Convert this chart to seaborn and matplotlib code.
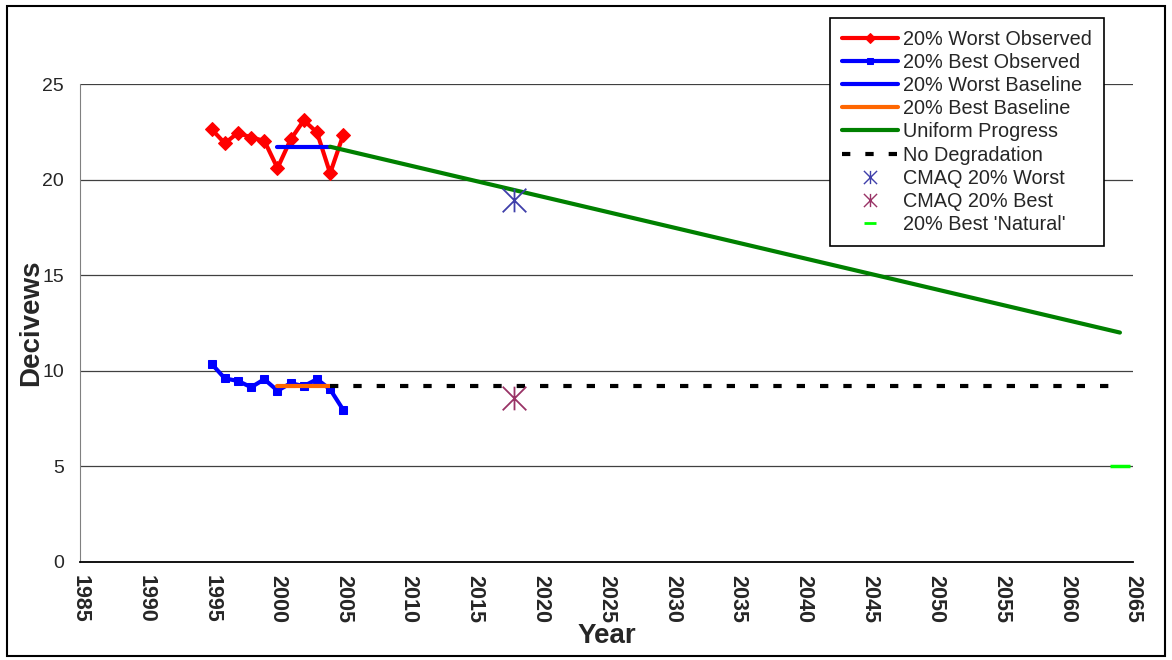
import matplotlib
matplotlib.use("Agg")
import matplotlib.pyplot as plt
import seaborn as sns
import pandas as pd
from matplotlib.patches import Rectangle
from matplotlib.path import Path

# observed 20% worst / best days (deciviews)
obs_years = [1995, 1996, 1997, 1998, 1999, 2000, 2001, 2002, 2003, 2004, 2005]
worst_obs = [22.63, 21.9, 22.45, 22.2, 22.03, 20.6, 22.1, 23.1, 22.47, 20.33, 22.35]
best_obs = [10.36, 9.6, 9.47, 9.14, 9.56, 8.96, 9.35, 9.2, 9.56, 9.03, 7.95]

# baselines 2000-2004
base_years = [2000, 2004]
worst_base = [21.72, 21.72]
best_base = [9.2, 9.2]

# glide path and no-degradation line
glide_years = [2004, 2014, 2024, 2034, 2044, 2054, 2064]
glide_vals = [21.72, 20.1, 18.48, 16.86, 15.24, 13.62, 12.0]
nodeg_years = [2004, 2064]
nodeg_vals = [9.2, 9.2]

# model projections and natural conditions
cmaq_year = 2018
cmaq_worst = 18.95
cmaq_best = 8.6
natural_year = 2064
natural_best = 5.0

xticks = list(range(1985, 2066, 5))
yticks = [0, 5, 10, 15, 20, 25]

sns.set_style("white")
plt.rcParams["font.family"] = ["Liberation Sans", "DejaVu Sans"]

# excel-style star: an x with a vertical bar through it
star = Path([(-1, -1), (1, 1), (-1, 1), (1, -1), (0, -1), (0, 1)],
            [Path.MOVETO, Path.LINETO, Path.MOVETO, Path.LINETO, Path.MOVETO, Path.LINETO])

fig = plt.figure(figsize=(11.72, 6.6), dpi=100)
ax = fig.add_axes([0.0683, 0.1485, 0.8985, 0.7242])

for y in yticks[1:]:
    ax.axhline(y, color="#404040", lw=0.9, zorder=0)

obs = pd.DataFrame({"Year": obs_years, "Worst": worst_obs, "Best": best_obs})
base = pd.DataFrame({"Year": base_years, "Worst": worst_base, "Best": best_base})
glide = pd.DataFrame({"Year": glide_years, "Value": glide_vals})
nodeg = pd.DataFrame({"Year": nodeg_years, "Value": nodeg_vals})

sns.lineplot(data=obs, x="Year", y="Worst", color="#FF0000", lw=3, marker="D",
             markersize=7, markeredgecolor="#FF0000", label="20% Worst Observed", ax=ax)
sns.lineplot(data=obs, x="Year", y="Best", color="#0000FF", lw=3, marker="s",
             markersize=6, markeredgecolor="#0000FF", label="20% Best Observed", ax=ax)
sns.lineplot(data=base, x="Year", y="Worst", color="#0000FF", lw=3,
             label="20% Worst Baseline", ax=ax)
sns.lineplot(data=base, x="Year", y="Best", color="#FF6600", lw=3,
             label="20% Best Baseline", ax=ax)
sns.lineplot(data=glide, x="Year", y="Value", color="#008000", lw=3,
             label="Uniform Progress", ax=ax)
sns.lineplot(data=nodeg, x="Year", y="Value", color="black", lw=3,
             dashes=False, label="No Degradation", ax=ax)
ax.lines[-1].set_dashes((2, 3.6))

ax.plot([cmaq_year], [cmaq_worst], linestyle="none", marker=star, markersize=17,
        markeredgewidth=1.3, color="#3F3FAA", label="CMAQ 20% Worst")
ax.plot([cmaq_year], [cmaq_best], linestyle="none", marker=star, markersize=17,
        markeredgewidth=1.3, color="#993366", label="CMAQ 20% Best")
ax.plot([natural_year], [natural_best], linestyle="none", marker="_", markersize=14,
        markeredgewidth=2.5, color="#00FF00", label="20% Best 'Natural'")

ax.set_xlim(1985, 2065)
ax.set_ylim(0, 25)
ax.set_xticks(xticks)
ax.set_yticks(yticks)
ax.set_xticklabels([str(t) for t in xticks], rotation=270, fontsize=15.5, fontweight="bold")
ax.set_yticklabels([str(t) for t in yticks], fontsize=14)
ax.tick_params(axis="both", direction="out", length=5.5, width=1, color="#404040")
ax.tick_params(axis="y", pad=6)
ax.tick_params(axis="x", color="black", pad=4)

ax.set_xlabel("Year", fontsize=20, fontweight="bold", labelpad=0)
ax.set_ylabel("Decivews", fontsize=20, fontweight="bold", labelpad=-1)

for s in ["top", "right"]:
    ax.spines[s].set_visible(False)
ax.spines["left"].set_color("#808080")
ax.spines["bottom"].set_color("black")
ax.spines["bottom"].set_linewidth(1.3)

leg = ax.legend(loc="upper right", bbox_to_anchor=(0.942, 0.973), bbox_transform=fig.transFigure,
                fontsize=14.3, frameon=True, fancybox=False, edgecolor="black", framealpha=1,
                handlelength=2.85, handletextpad=0.25, labelspacing=0.21, borderpad=0.6,
                borderaxespad=0)
leg.get_frame().set_linewidth(1.2)

# shrink the legend markers, excel draws them small there
legend_marker_sizes = {
    "20% Worst Observed": 5,
    "20% Best Observed": 4.5,
    "CMAQ 20% Worst": 9.5,
    "CMAQ 20% Best": 9.5,
    "20% Best 'Natural'": 9,
}
for h, t in zip(leg.legend_handles, leg.get_texts()):
    label = t.get_text()
    if label in legend_marker_sizes:
        h.set_markersize(legend_marker_sizes[label])
        if label.startswith("CMAQ"):
            h.set_markeredgewidth(1)
        elif "Natural" in label:
            h.set_markeredgewidth(2)

fig.patches.append(Rectangle((0.006, 0.006), 0.988, 0.985, transform=fig.transFigure,
                             fill=False, lw=1.5, ec="black"))

fig.savefig("out.png", dpi=100)
